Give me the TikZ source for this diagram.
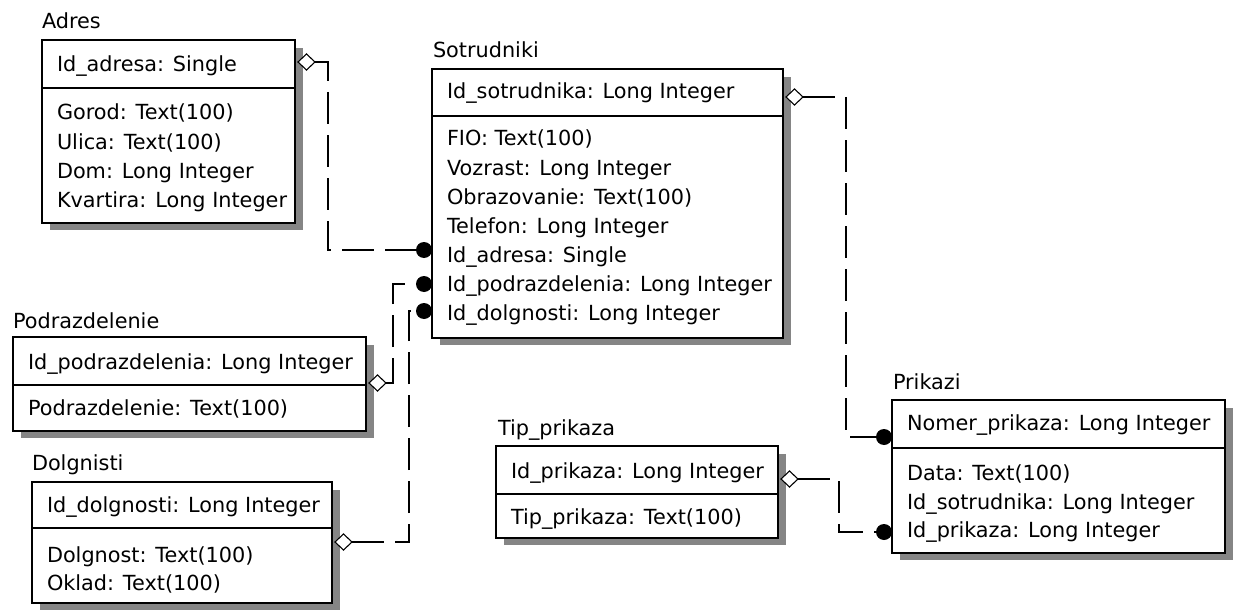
\documentclass[tikz,border=0pt]{standalone}
\usepackage{fontspec}
\setmainfont{DejaVu Sans}
\begin{document}
\begin{tikzpicture}[x=1pt,y=-1pt,
  every node/.style={inner sep=0pt,outer sep=0pt},
  txt/.style={anchor=base west,font=\fontsize{20.8}{24}\selectfont},
  boxline/.style={draw=black,line width=1.4pt},
  shadowfill/.style={fill=black!48,draw=none},
  conn/.style={line width=1.2pt,dash pattern=on 32pt off 11pt},
  crow/.style={draw=black,fill=white,line width=1.1pt},
  dotc/.style={fill=black,draw=none}]
\useasboundingbox (0,0) rectangle (1235,610);
\newcommand{\erbox}[6]{% name, left, top, right, bottom, sep
  \fill[shadowfill] (#2+8,#3+8) rectangle (#4+8,#5+7);
  \node[draw=black,line width=1.4pt,fill=white,minimum width=#4-#2,minimum height=#5-#3,anchor=north west] (#1) at (#2,#3) {};
  \draw[boxline] (#2,#6) -- (#4,#6);
}
% Adres
\erbox{adres}{42}{40}{295}{223}{88}
\node[txt] (adrest) at (42,29) {Adres};
\node[txt] (a0) at (57,72) {Id\_adresa: Single};
\node[txt] (a1) at (57,120) {Gorod: Text(100)};
\node[txt] (a2) at (57,149) {Ulica: Text(100)};
\node[txt] (a3) at (57,178) {Dom: Long Integer};
\node[txt] (a4) at (57,207) {Kvartira: Long Integer};
% Sotrudniki
\erbox{sotr}{432}{69}{783}{338}{116}
\node[txt] (sotrt) at (433,58) {Sotrudniki};
\node[txt] (s0) at (447,99) {Id\_sotrudnika: Long Integer};
\node[txt] (s1) at (447,146) {FIO: Text(100)};
\node[txt] (s2) at (447,175) {Vozrast: Long Integer};
\node[txt] (s3) at (447,204) {Obrazovanie: Text(100)};
\node[txt] (s4) at (447,233) {Telefon: Long Integer};
\node[txt] (s5) at (447,262) {Id\_adresa: Single};
\node[txt] (s6) at (447,291) {Id\_podrazdelenia: Long Integer};
\node[txt] (s7) at (447,320) {Id\_dolgnosti: Long Integer};
% Podrazdelenie
\erbox{podr}{13}{337}{366}{431}{385}
\node[txt] (podrt) at (13,328) {Podrazdelenie};
\node[txt] (p0) at (28,369) {Id\_podrazdelenia: Long Integer};
\node[txt] (p1) at (28,415) {Podrazdelenie: Text(100)};
% Dolgnisti
\erbox{dolg}{32}{482}{332}{603}{528}
\node[txt] (dolgt) at (32,470) {Dolgnisti};
\node[txt] (d0) at (47,512) {Id\_dolgnosti: Long Integer};
\node[txt] (d1) at (47,562) {Dolgnost: Text(100)};
\node[txt] (d2) at (47,590) {Oklad: Text(100)};
% Tip_prikaza
\erbox{tip}{496}{446}{778}{538}{494}
\node[txt] (tipt) at (498,435) {Tip\_prikaza};
\node[txt] (t0) at (511,478) {Id\_prikaza: Long Integer};
\node[txt] (t1) at (511,524) {Tip\_prikaza: Text(100)};
% Prikazi
\erbox{prik}{892}{400}{1225}{553}{448}
\node[txt] (prikt) at (893,389) {Prikazi};
\node[txt] (k0) at (907,430) {Nomer\_prikaza: Long Integer};
\node[txt] (k1) at (907,480) {Data: Text(100)};
\node[txt] (k2) at (907,509) {Id\_sotrudnika: Long Integer};
\node[txt] (k3) at (907,537) {Id\_prikaza: Long Integer};
% connector end points
\coordinate (c1a) at (315,62);   \coordinate (c1b) at (420,250);
\coordinate (c2a) at (386,383);  \coordinate (c2b) at (420,284);
\coordinate (c3a) at (352,542);  \coordinate (c3b) at (420,311);
\coordinate (c4a) at (803,97);   \coordinate (c4b) at (880,437);
\coordinate (c5a) at (798,479);  \coordinate (c5b) at (880,532);
% connectors
\draw[conn] (c1a) -- (328,62) |- (c1b);
\draw[conn] (c2a) -- (393,383) |- (c2b);
\draw[conn] (c3a) -- (409,542) |- (c3b);
\draw[conn] (c4a) -- (846,97) |- (c4b);
\draw[conn] (c5a) -- (839,479) |- (c5b);
% open diamonds at the "one" end
\newcommand{\dia}[2]{% tip x, y
  \draw[crow] (#1-17,#2) -- (#1-8.5,#2-8) -- (#1,#2) -- (#1-8.5,#2+8) -- cycle;}
\dia{315}{62}
\dia{386}{383}
\dia{352}{542}
\dia{803}{97}
\dia{798}{479}
% dots at the "many" end
\fill[dotc] (c1b) ++(4,0) circle (8);
\fill[dotc] (c2b) ++(4,0) circle (8);
\fill[dotc] (c3b) ++(4,0) circle (8);
\fill[dotc] (c4b) ++(4,0) circle (8);
\fill[dotc] (c5b) ++(4,0) circle (8);
\end{tikzpicture}
\end{document}
